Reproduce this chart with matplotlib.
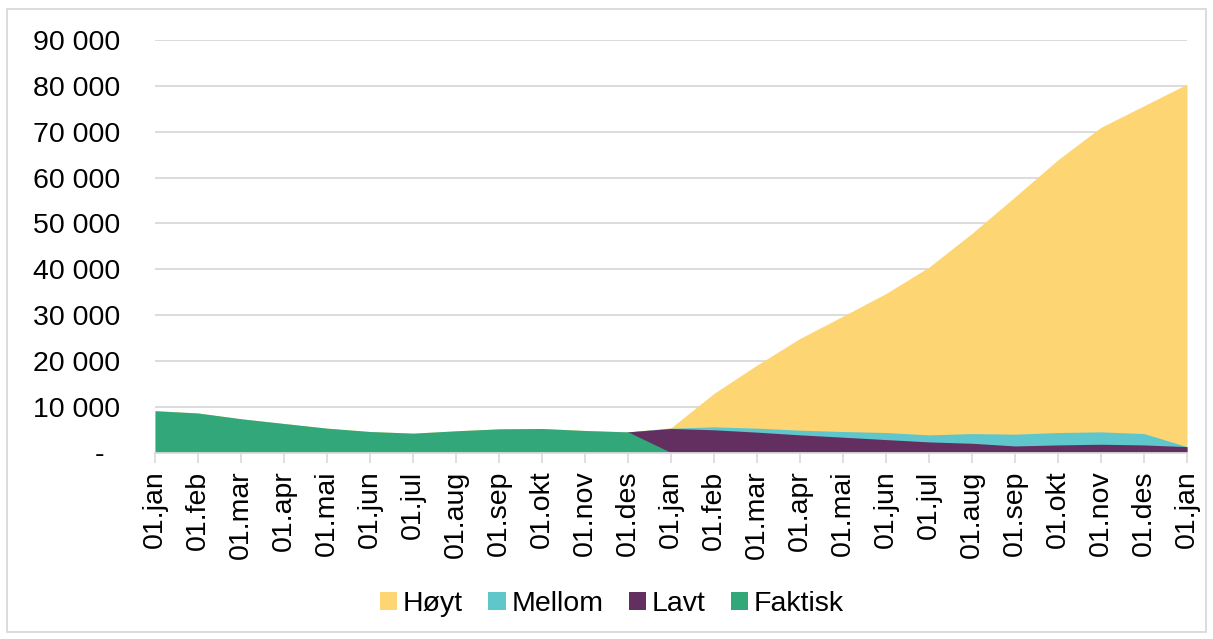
"""Scenario area chart: Høyt / Mellom / Lavt / Faktisk over two years by month."""

import matplotlib
matplotlib.use("Agg")
import matplotlib.pyplot as plt
from matplotlib.patches import Patch, Rectangle
from matplotlib.ticker import FuncFormatter

plt.rcParams["font.family"] = ["Liberation Sans", "DejaVu Sans"]

MONTHS = ["01.jan", "01.feb", "01.mar", "01.apr", "01.mai", "01.jun",
          "01.jul", "01.aug", "01.sep", "01.okt", "01.nov", "01.des"]
LABELS = MONTHS + MONTHS + ["01.jan"]

# values (25 monthly points)
faktisk = [9120, 8620, 7360, 6330, 5310, 4580, 4220, 4730, 5160, 5240, 4800, 4500,
           0, 0, 0, 0, 0, 0, 0, 0, 0, 0, 0, 0, 0]
hoyt = [9120, 8620, 7360, 6330, 5310, 4580, 4220, 4730, 5160, 5240, 4800, 4500,
        5400, 12900, 19080, 24890, 29750, 34690, 40450, 47820, 55780, 63880,
        70960, 75660, 80360]
mellom = [0, 0, 0, 0, 0, 0, 0, 0, 0, 0, 0, 4500,
          5300, 5600, 5310, 4870, 4580, 4360, 3850, 4130, 4000, 4360, 4500, 4130, 1280]
lavt = [0, 0, 0, 0, 0, 0, 0, 0, 0, 0, 0, 4500,
        5240, 4950, 4440, 3850, 3340, 2820, 2310, 2010, 1430, 1650, 1800, 1650, 1280]

SERIES = [("Høyt", hoyt, "#FDD673"),
          ("Mellom", mellom, "#5FC6CB"),
          ("Lavt", lavt, "#632F61"),
          ("Faktisk", faktisk, "#32A77A")]

W, H = 1213, 639
GRID = "#d9d9d9"
FS = 20.5

fig = plt.figure(figsize=(W / 100, H / 100), dpi=100)
ax = fig.add_axes([155 / W, 1 - 452.5 / H, (1187 - 155) / W, (452.5 - 40) / H])

x = list(range(len(LABELS)))
for name, vals, col in SERIES:
    ax.fill_between(x, 0, vals, color=col, lw=0, zorder=2)

ax.set_xlim(0, len(LABELS) - 1)
ax.set_ylim(0, 90000)
ax.set_yticks(range(0, 90001, 10000))
ax.yaxis.set_major_formatter(FuncFormatter(
    lambda v, _: "-  " if v == 0 else f"{int(v):,}".replace(",", " ")))
ax.set_xticks(x)
ax.set_xticklabels(LABELS, rotation=90)

ax.grid(axis="y", color=GRID, lw=1.3, zorder=1)
ax.set_axisbelow(True)
for s in ["top", "right", "left"]:
    ax.spines[s].set_visible(False)
ax.spines["bottom"].set_color(GRID)
ax.spines["bottom"].set_linewidth(1.3)
ax.spines["bottom"].set_zorder(3)

ax.tick_params(axis="y", length=0, pad=25, labelsize=FS, labelcolor="black")
ax.tick_params(axis="x", direction="out", length=7, width=1.2, color=GRID,
               pad=6, labelsize=FS, labelcolor="black")

handles = [Patch(facecolor=c, edgecolor="none", label=n) for n, _, c in SERIES]
fig.legend(handles=handles, loc="center", bbox_to_anchor=(612 / W, 1 - 604 / H),
           ncol=4, frameon=False, fontsize=FS, handlelength=0.6, handleheight=0.6,
           handletextpad=0.2, columnspacing=0.9)

fig.patches.append(Rectangle((7 / W, 1 - 632 / H), 1199 / W, 623 / H,
                             transform=fig.transFigure, fill=False,
                             edgecolor=GRID, lw=1.3))

fig.savefig("out.png", dpi=100)
